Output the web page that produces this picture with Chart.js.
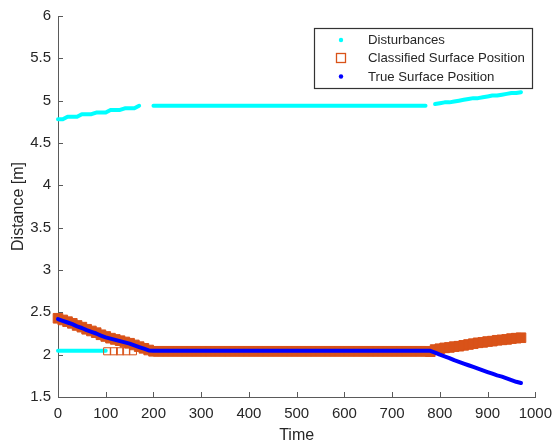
<!DOCTYPE html>
<html><head><meta charset="utf-8">
<script src="https://cdn.jsdelivr.net/npm/chart.js@4.4.1/dist/chart.umd.min.js"></script>
<style>html,body{margin:0;padding:0;background:#fff}#wrap{width:560px;height:444px}</style>
</head><body><div id="wrap"><canvas id="c" width="560" height="444"></canvas></div>
<script>
const seriesNames = ['Disturbances', 'Classified Surface Position', 'True Surface Position'];
const xTickValues = [0,100,200,300,400,500,600,700,800,900,1000];
const yTickValues = [1.5,2,2.5,3,3.5,4,4.5,5,5.5,6];
const xTitle = 'Time';
const yTitle = 'Distance [m]';

const time = [0,10,20,30,40,50,60,70,80,90,
  100,110,120,130,140,150,160,170,180,190,
  200,210,220,230,240,250,260,270,280,290,
  300,310,320,330,340,350,360,370,380,390,
  400,410,420,430,440,450,460,470,480,490,
  500,510,520,530,540,550,560,570,580,590,
  600,610,620,630,640,650,660,670,680,690,
  700,710,720,730,740,750,760,770,780,
  790,800,810,820,830,840,850,860,870,880,
  890,900,910,920,930,940,950,960,970];

const trueSurface = [2.42,2.40,2.38,2.36,2.335,2.315,2.29,2.27,2.25,2.225,
  2.205,2.19,2.175,2.16,2.145,2.13,2.11,2.09,2.07,2.05,
  2.045,2.045,2.045,2.045,2.045,2.045,2.045,2.045,2.045,2.045,
  2.045,2.045,2.045,2.045,2.045,2.045,2.045,2.045,2.045,2.045,
  2.045,2.045,2.045,2.045,2.045,2.045,2.045,2.045,2.045,2.045,
  2.045,2.045,2.045,2.045,2.045,2.045,2.045,2.045,2.045,2.045,
  2.045,2.045,2.045,2.045,2.045,2.045,2.045,2.045,2.045,2.045,
  2.045,2.045,2.045,2.045,2.045,2.045,2.045,2.045,2.045,
  2.025,2.00,1.98,1.96,1.935,1.915,1.895,1.875,1.855,1.835,
  1.815,1.795,1.775,1.755,1.74,1.72,1.70,1.68,1.665];

const classifiedSurface = [2.43,2.41,2.39,2.37,2.345,2.325,2.30,2.28,2.26,2.235,
  2.215,2.195,2.18,2.165,2.15,2.135,2.115,2.095,2.075,2.055,
  2.04,2.04,2.04,2.04,2.04,2.04,2.04,2.04,2.04,2.04,
  2.04,2.04,2.04,2.04,2.04,2.04,2.04,2.04,2.04,2.04,
  2.04,2.04,2.04,2.04,2.04,2.04,2.04,2.04,2.04,2.04,
  2.04,2.04,2.04,2.04,2.04,2.04,2.04,2.04,2.04,2.04,
  2.04,2.04,2.04,2.04,2.04,2.04,2.04,2.04,2.04,2.04,
  2.04,2.04,2.04,2.04,2.04,2.04,2.04,2.04,2.035,
  2.06,2.07,2.08,2.085,2.095,2.10,2.11,2.12,2.13,2.14,
  2.145,2.155,2.16,2.17,2.175,2.18,2.19,2.195,2.20];

const classifiedOutlierTime = [103,117,130,143,157];
const classifiedOutlier = [2.04,2.04,2.04,2.04,2.04];

const disturbanceUpper = [4.78,4.78,4.81,4.81,4.81,4.84,4.84,4.84,4.86,4.86,
  4.86,4.89,4.89,4.89,4.91,4.91,4.91,4.94,null,null,
  4.94,4.94,4.94,4.94,4.94,4.94,4.94,4.94,4.94,4.94,
  4.94,4.94,4.94,4.94,4.94,4.94,4.94,4.94,4.94,4.94,
  4.94,4.94,4.94,4.94,4.94,4.94,4.94,4.94,4.94,4.94,
  4.94,4.94,4.94,4.94,4.94,4.94,4.94,4.94,4.94,4.94,
  4.94,4.94,4.94,4.94,4.94,4.94,4.94,4.94,4.94,4.94,
  4.94,4.94,4.94,4.94,4.94,4.94,4.94,4.94,null,
  4.96,4.97,4.98,4.98,4.99,5.00,5.01,5.02,5.03,5.03,
  5.04,5.05,5.06,5.06,5.07,5.08,5.09,5.09,5.10];

const disturbanceLowerTime = [0,10,20,30,40,50,60,70,80,90,100];
const disturbanceLower = [2.045,2.045,2.045,2.045,2.045,2.045,2.045,2.045,2.045,2.045,2.045];

const CYAN = '#00FFFF', ORANGE = '#D95319', BLUE = '#0000FF';
const FONT = "'Liberation Sans', Arial, Helvetica, sans-serif";
const TXT = '#262626';
const AXIS = '#5a5a5a';

function pts(xs, ys) { return xs.map((x, i) => ({ x: x, y: ys[i] })); }

const inwardTicks = {
  id: 'inwardTicks',
  afterDatasetsDraw(chart) {
    const { ctx, chartArea: a, scales: { x, y } } = chart;
    ctx.save();
    ctx.strokeStyle = AXIS; ctx.lineWidth = 1;
    ctx.beginPath();
    xTickValues.forEach(v => {
      const px = Math.round(x.getPixelForValue(v)) + 0.5;
      ctx.moveTo(px, a.bottom); ctx.lineTo(px, a.bottom - 5);
    });
    yTickValues.forEach(v => {
      const py = Math.round(y.getPixelForValue(v)) + 0.5;
      ctx.moveTo(a.left, py); ctx.lineTo(a.left + 5, py);
    });
    ctx.stroke();
    ctx.restore();
  }
};

const boxLegend = {
  id: 'boxLegend',
  afterDraw(chart) {
    const ctx = chart.ctx;
    ctx.save();
    ctx.fillStyle = '#fff';
    ctx.fillRect(314, 28, 218, 60);
    ctx.strokeStyle = '#333'; ctx.lineWidth = 1.2;
    ctx.strokeRect(314.5, 28.5, 218, 60);
    const rows = [40, 58, 76.5];
    const mx = 341;
    // markers
    ctx.fillStyle = CYAN;
    ctx.beginPath(); ctx.arc(mx, rows[0], 2.2, 0, Math.PI * 2); ctx.fill();
    ctx.strokeStyle = ORANGE; ctx.lineWidth = 1.3;
    ctx.strokeRect(mx - 4.5, rows[1] - 4.5, 9, 9);
    ctx.fillStyle = BLUE;
    ctx.beginPath(); ctx.arc(mx, rows[2], 2.2, 0, Math.PI * 2); ctx.fill();
    ctx.fillStyle = TXT;
    ctx.font = '13.2px ' + FONT;
    ctx.textBaseline = 'middle';
    ctx.textAlign = 'left';
    seriesNames.forEach((n, i) => ctx.fillText(n, 368, rows[i] + 0.5));
    ctx.restore();
  }
};

new Chart(document.getElementById('c'), {
  type: 'scatter',
  data: {
    datasets: [
      { label: seriesNames[2], data: pts(time, trueSurface), showLine: true,
        borderColor: BLUE, backgroundColor: BLUE, borderWidth: 4, pointRadius: 0,
        borderCapStyle: 'round', borderJoinStyle: 'round', clip: false },
      { label: seriesNames[1], data: pts(time, classifiedSurface), showLine: false,
        pointStyle: 'rect', pointRadius: 6.8, borderColor: ORANGE, backgroundColor: ORANGE,
        borderWidth: 1, clip: false },
      { label: seriesNames[1] + ' ', data: pts(classifiedOutlierTime, classifiedOutlier), showLine: false,
        pointStyle: 'rect', pointRadius: 5, borderColor: ORANGE, backgroundColor: 'rgba(0,0,0,0)',
        borderWidth: 1, clip: false },
      { label: seriesNames[0], data: pts(time, disturbanceUpper), showLine: true, spanGaps: false,
        borderColor: CYAN, backgroundColor: CYAN, borderWidth: 4, pointRadius: 0,
        borderCapStyle: 'round', borderJoinStyle: 'round', clip: false },
      { label: seriesNames[0] + ' ', data: pts(disturbanceLowerTime, disturbanceLower), showLine: true,
        borderColor: CYAN, backgroundColor: CYAN, borderWidth: 4, pointRadius: 0,
        borderCapStyle: 'round', borderJoinStyle: 'round', clip: false }
    ]
  },
  options: {
    responsive: false,
    animation: false,
    devicePixelRatio: 1,
    events: [],
    layout: { padding: { top: 16, right: 17, bottom: 0, left: 0 } },
    plugins: { legend: { display: false }, tooltip: { enabled: false } },
    scales: {
      x: {
        type: 'linear', position: 'bottom', min: 0, max: 1000,
        afterBuildTicks: s => { s.ticks = xTickValues.map(v => ({ value: v })); },
        afterFit: s => { s.height = 47; },
        ticks: { callback: v => String(v), color: TXT, font: { family: FONT, size: 15 }, padding: 8, maxRotation: 0, autoSkip: false },
        grid: { display: true, drawOnChartArea: false, drawTicks: false },
        border: { display: true, color: AXIS, width: 1 },
        title: { display: true, text: xTitle, color: TXT, font: { family: FONT, size: 16, lineHeight: 1 }, padding: { top: 0, bottom: 0 } }
      },
      y: {
        type: 'linear', position: 'left', min: 1.5, max: 6,
        afterBuildTicks: s => { s.ticks = yTickValues.map(v => ({ value: v })); },
        afterFit: s => { s.width = 58; },
        ticks: { callback: v => String(v), color: TXT, font: { family: FONT, size: 15 }, padding: 7, autoSkip: false },
        grid: { display: true, drawOnChartArea: false, drawTicks: false },
        border: { display: true, color: AXIS, width: 1 },
        title: { display: true, text: yTitle, color: TXT, font: { family: FONT, size: 16 }, padding: { top: 9, bottom: 0 } }
      }
    }
  },
  plugins: [inwardTicks, boxLegend]
});
</script>
</body></html>
